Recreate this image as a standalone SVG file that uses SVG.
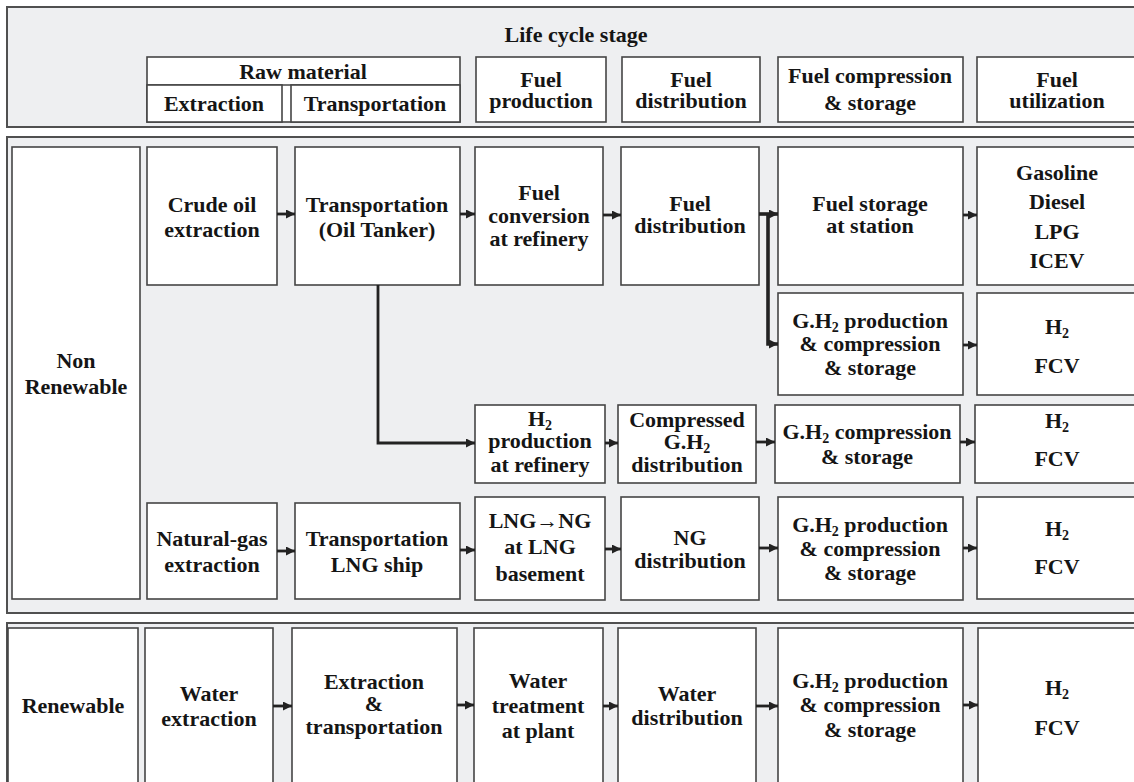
<svg xmlns="http://www.w3.org/2000/svg" width="1134" height="782" viewBox="0 0 1134 782">
<defs>
<style>
.panel{fill:#eeeff1;stroke:#505050;stroke-width:2}
.box{fill:#ffffff;stroke:#454545;stroke-width:1.6}
text{font-family:'Liberation Serif','DejaVu Serif','Times New Roman',serif;font-weight:bold;font-size:22px;fill:#151515;text-anchor:middle}
.sub{font-size:14px}
.c{fill:none;stroke:#222;stroke-width:2.8}
.cb{fill:none;stroke:#222;stroke-width:3.6}
</style>
<marker id="ah" viewBox="0 0 10 10" refX="10" refY="5" markerUnits="userSpaceOnUse" markerWidth="9" markerHeight="9" orient="auto">
<path d="M0,0 L10,5 L0,10 z" fill="#222"/>
</marker>
</defs>
<rect width="1134" height="782" fill="#ffffff"/>

<g id="header">
<rect class="panel" x="7" y="7" width="1140" height="120"/>
<text x="576" y="42">Life cycle stage</text>
<rect class="box" x="147" y="57" width="313" height="65"/>
<line x1="147" y1="85" x2="460" y2="85" stroke="#454545" stroke-width="1.6"/>
<text x="303" y="79">Raw material</text>
<rect class="box" x="147" y="85" width="135" height="37"/>
<text x="214" y="111">Extraction</text>
<rect class="box" x="291" y="85" width="169" height="37"/>
<text x="375" y="111">Transportation</text>
<rect class="box" x="476" y="57" width="130" height="65"/>
<text x="541" y="87">Fuel</text>
<text x="541" y="108">production</text>
<rect class="box" x="622" y="57" width="138" height="65"/>
<text x="691" y="87">Fuel</text>
<text x="691" y="108">distribution</text>
<rect class="box" x="778" y="57" width="185" height="65"/>
<text x="870" y="83">Fuel compression</text>
<text x="870" y="110">&amp; storage</text>
<rect class="box" x="977" y="57" width="200" height="65"/>
<text x="1057" y="87">Fuel</text>
<text x="1057" y="108">utilization</text>
</g>

<rect class="panel" x="7" y="137" width="1140" height="476"/>
<g id="nonrenewable">
<rect class="box" x="12" y="147" width="128" height="452"/>
<text x="76" y="368">Non</text>
<text x="76" y="394">Renewable</text>
</g>

<g id="crude_oil_extraction">
<rect class="box" x="147" y="147" width="130" height="138"/>
<text x="212" y="212">Crude oil</text>
<text x="212" y="237">extraction</text>
</g>
<g id="oil_tanker">
<rect class="box" x="295" y="147" width="165" height="138"/>
<text x="377" y="212">Transportation</text>
<text x="377" y="237">(Oil Tanker)</text>
</g>
<g id="fuel_conversion">
<rect class="box" x="475" y="147" width="128" height="138"/>
<text x="539" y="200">Fuel</text>
<text x="539" y="223">conversion</text>
<text x="539" y="246">at refinery</text>
</g>
<g id="fuel_distribution">
<rect class="box" x="621" y="147" width="138" height="138"/>
<text x="690" y="211">Fuel</text>
<text x="690" y="233">distribution</text>
</g>
<g id="fuel_storage">
<rect class="box" x="778" y="147" width="185" height="138"/>
<text x="870" y="211">Fuel storage</text>
<text x="870" y="233">at station</text>
</g>
<g id="gasoline">
<rect class="box" x="977" y="147" width="200" height="138"/>
<text x="1057" y="180">Gasoline</text>
<text x="1057" y="209">Diesel</text>
<text x="1057" y="239">LPG</text>
<text x="1057" y="268">ICEV</text>
</g>

<g id="gh2_prod_1">
<rect class="box" x="778" y="293" width="185" height="102"/>
<text x="870" y="328">G.H<tspan class="sub" dy="4">2</tspan><tspan dy="-4"> production</tspan></text>
<text x="870" y="351">&amp; compression</text>
<text x="870" y="375">&amp; storage</text>
</g>
<g id="fcv_1">
<rect class="box" x="977" y="293" width="200" height="102"/>
<text x="1057" y="334">H<tspan class="sub" dy="4">2</tspan></text>
<text x="1057" y="373">FCV</text>
</g>

<g id="h2_refinery">
<rect class="box" x="475" y="405" width="130" height="78"/>
<text x="540" y="426">H<tspan class="sub" dy="4">2</tspan></text>
<text x="540" y="448">production</text>
<text x="540" y="472">at refinery</text>
</g>
<g id="compressed_gh2">
<rect class="box" x="618" y="405" width="138" height="78"/>
<text x="687" y="427">Compressed</text>
<text x="687" y="449">G.H<tspan class="sub" dy="4">2</tspan></text>
<text x="687" y="472">distribution</text>
</g>
<g id="gh2_compression">
<rect class="box" x="775" y="405" width="185" height="78"/>
<text x="867" y="439">G.H<tspan class="sub" dy="4">2</tspan><tspan dy="-4"> compression</tspan></text>
<text x="867" y="464">&amp; storage</text>
</g>
<g id="fcv_2">
<rect class="box" x="975" y="405" width="200" height="78"/>
<text x="1057" y="428">H<tspan class="sub" dy="4">2</tspan></text>
<text x="1057" y="466">FCV</text>
</g>

<g id="natural_gas_extraction">
<rect class="box" x="147" y="503" width="130" height="96"/>
<text x="212" y="546">Natural-gas</text>
<text x="212" y="572">extraction</text>
</g>
<g id="lng_ship">
<rect class="box" x="295" y="503" width="165" height="96"/>
<text x="377" y="546">Transportation</text>
<text x="377" y="572">LNG ship</text>
</g>
<g id="lng_ng">
<rect class="box" x="475" y="497" width="130" height="103"/>
<text x="540" y="528">LNG→NG</text>
<text x="540" y="554">at LNG</text>
<text x="540" y="581">basement</text>
</g>
<g id="ng_distribution">
<rect class="box" x="621" y="497" width="138" height="103"/>
<text x="690" y="545">NG</text>
<text x="690" y="568">distribution</text>
</g>
<g id="gh2_prod_2">
<rect class="box" x="778" y="497" width="185" height="103"/>
<text x="870" y="532">G.H<tspan class="sub" dy="4">2</tspan><tspan dy="-4"> production</tspan></text>
<text x="870" y="556">&amp; compression</text>
<text x="870" y="580">&amp; storage</text>
</g>
<g id="fcv_3">
<rect class="box" x="977" y="497" width="200" height="102"/>
<text x="1057" y="536">H<tspan class="sub" dy="4">2</tspan></text>
<text x="1057" y="574">FCV</text>
</g>

<rect class="panel" x="7" y="623" width="1140" height="180"/>
<g id="renewable">
<rect class="box" x="8" y="628" width="130" height="170"/>
<text x="73" y="713">Renewable</text>
</g>
<g id="water_extraction">
<rect class="box" x="145" y="628" width="128" height="170"/>
<text x="209" y="701">Water</text>
<text x="209" y="726">extraction</text>
</g>
<g id="extraction_transportation">
<rect class="box" x="292" y="628" width="165" height="170"/>
<text x="374" y="689">Extraction</text>
<text x="374" y="711">&amp;</text>
<text x="374" y="734">transportation</text>
</g>
<g id="water_treatment">
<rect class="box" x="474" y="628" width="129" height="170"/>
<text x="538" y="688">Water</text>
<text x="538" y="713">treatment</text>
<text x="538" y="738">at plant</text>
</g>
<g id="water_distribution">
<rect class="box" x="618" y="628" width="138" height="170"/>
<text x="687" y="701">Water</text>
<text x="687" y="725">distribution</text>
</g>
<g id="gh2_prod_3">
<rect class="box" x="778" y="628" width="185" height="170"/>
<text x="870" y="688">G.H<tspan class="sub" dy="4">2</tspan><tspan dy="-4"> production</tspan></text>
<text x="870" y="712">&amp; compression</text>
<text x="870" y="737">&amp; storage</text>
</g>
<g id="fcv_4">
<rect class="box" x="978" y="628" width="200" height="170"/>
<text x="1057" y="695">H<tspan class="sub" dy="4">2</tspan></text>
<text x="1057" y="735">FCV</text>
</g>

<g id="connectors">
<line class="c" x1="277" y1="214" x2="295" y2="214" marker-end="url(#ah)"/>
<line class="c" x1="460" y1="214" x2="475" y2="214" marker-end="url(#ah)"/>
<line class="c" x1="603" y1="215" x2="621" y2="215" marker-end="url(#ah)"/>
<line class="cb" x1="759" y1="214" x2="778" y2="214" marker-end="url(#ah)"/>
<polyline class="cb" points="768,214 768,344 778,344" marker-end="url(#ah)"/>
<line class="c" x1="963" y1="215" x2="977" y2="215" marker-end="url(#ah)"/>
<line class="c" x1="963" y1="345" x2="977" y2="345" marker-end="url(#ah)"/>
<polyline class="c" points="378,285 378,443 475,443" marker-end="url(#ah)"/>
<line class="c" x1="605" y1="443" x2="618" y2="443" marker-end="url(#ah)"/>
<line class="c" x1="756" y1="442" x2="775" y2="442" marker-end="url(#ah)"/>
<line class="c" x1="960" y1="442" x2="975" y2="442" marker-end="url(#ah)"/>
<line class="c" x1="277" y1="551" x2="295" y2="551" marker-end="url(#ah)"/>
<line class="c" x1="460" y1="550" x2="475" y2="550" marker-end="url(#ah)"/>
<line class="c" x1="605" y1="549" x2="621" y2="549" marker-end="url(#ah)"/>
<line class="c" x1="759" y1="548" x2="778" y2="548" marker-end="url(#ah)"/>
<line class="c" x1="963" y1="548" x2="977" y2="548" marker-end="url(#ah)"/>
<line class="c" x1="273" y1="706" x2="292" y2="706" marker-end="url(#ah)"/>
<line class="c" x1="457" y1="705" x2="474" y2="705" marker-end="url(#ah)"/>
<line class="c" x1="603" y1="706" x2="618" y2="706" marker-end="url(#ah)"/>
<line class="c" x1="756" y1="706" x2="778" y2="706" marker-end="url(#ah)"/>
<line class="c" x1="963" y1="705" x2="978" y2="705" marker-end="url(#ah)"/>
</g>
</svg>
